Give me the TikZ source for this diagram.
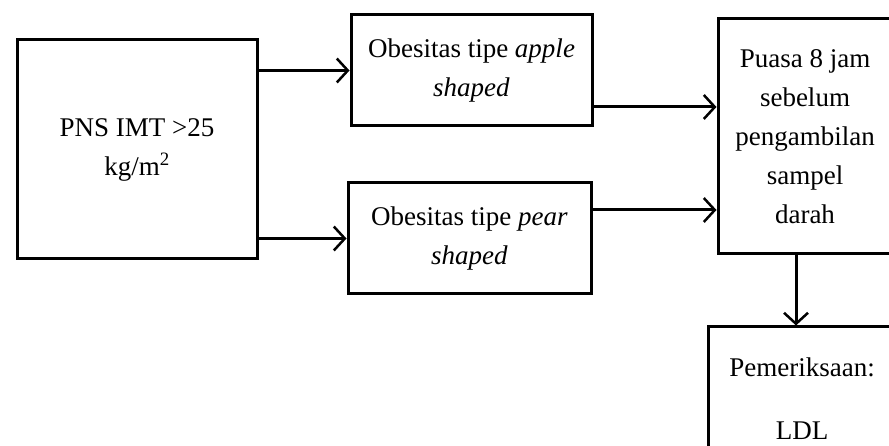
\documentclass[tikz,border=0pt]{standalone}
\usepackage{fontspec}
\setmainfont{Liberation Serif}
\usetikzlibrary{arrows.meta,calc}
\begin{document}
\begin{tikzpicture}[x=1pt,y=-1pt,
  box/.style={draw, line width=3pt, inner sep=0pt, align=center, font=\fontsize{27}{39}\selectfont},
  arr/.style={line width=3pt, -{Straight Barb[length=11pt,width=24pt,line width=2.5pt]}}]
\useasboundingbox (0,0) rectangle (889,446);
\clip (0,0) rectangle (889,446);
\node[box, minimum width=240pt, minimum height=219pt] (A) at (137,149.5) {PNS IMT >25\\kg/m\textsuperscript{2}};
\node[box, minimum width=241pt, minimum height=111pt] (B) at (471.5,70.5) {Obesitas tipe \textit{apple}\\\textit{shaped}};
\node[box, minimum width=243pt, minimum height=111pt] (C) at (469.5,238.5) {Obesitas tipe \textit{pear}\\\textit{shaped}};
\node[box, minimum width=174pt, minimum height=235pt] (D) at (805,136.5) {Puasa 8 jam\\sebelum\\pengambilan\\sampel\\darah};
\node[box, minimum width=188pt, minimum height=143pt] (E) at (802,398.5) {Pemeriksaan:\\[24pt]LDL};
\coordinate (bd) at ($(B.north east)!0.82!(B.south east)$);
\coordinate (cd) at ($(C.north east)!0.25!(C.south east)$);
\coordinate (de) at ([xshift=-6pt]E.north);
\draw[arr] (A.east |- B.west) -- (B.west);
\draw[arr] (A.east |- C.west) -- (C.west);
\draw[arr] (bd) -- (D.west |- bd);
\draw[arr] (cd) -- (D.west |- cd);
\draw[arr] (D.south -| de) -- (de);
\end{tikzpicture}
\end{document}
